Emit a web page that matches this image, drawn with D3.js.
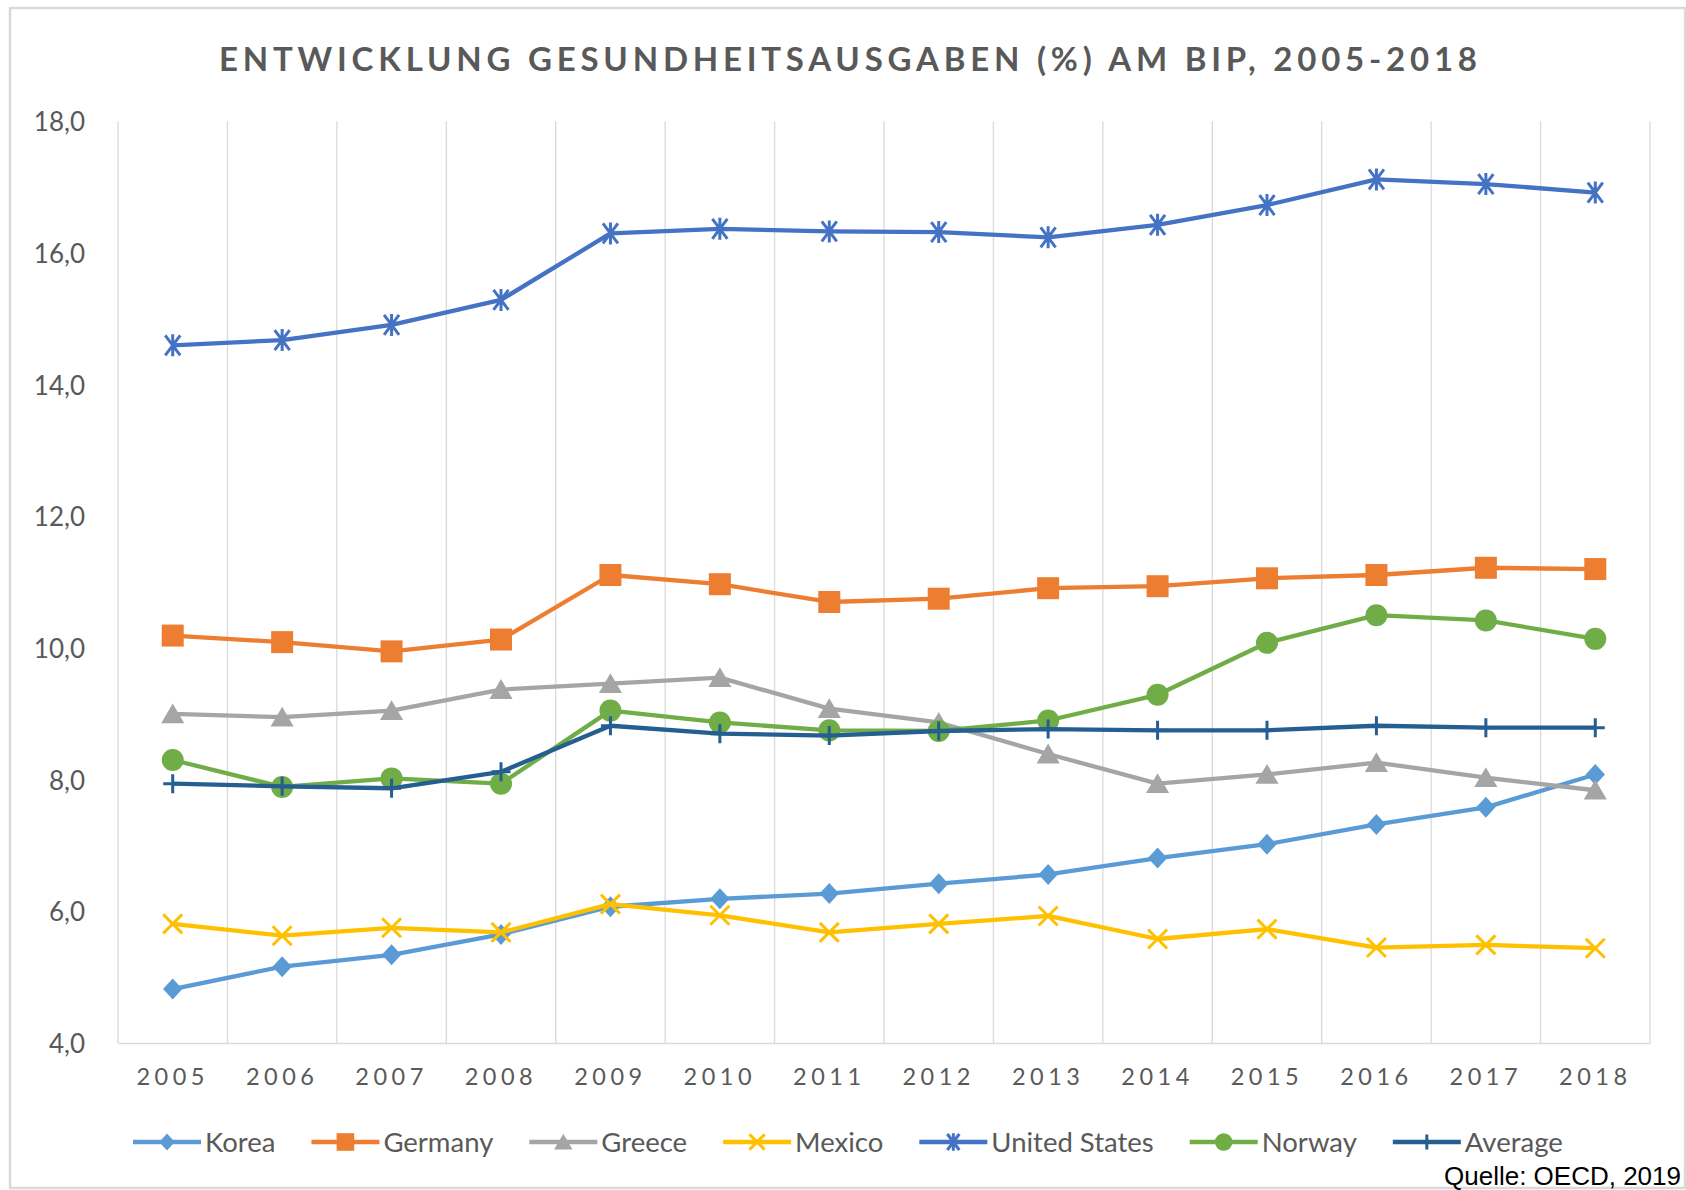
<!DOCTYPE html>
<html>
<head>
<meta charset="utf-8">
<script src="https://cdn.jsdelivr.net/npm/d3@7"></script>
<style>
  html, body { margin: 0; padding: 0; background: #fff; }
  svg { display: block; }
</style>
</head>
<body>
<svg id="chart" width="1686" height="1190"></svg>
<script>
// ---- data ----
const years = ["2005","2006","2007","2008","2009","2010","2011","2012","2013","2014","2015","2016","2017","2018"];
const yTicks = [4, 6, 8, 10, 12, 14, 16, 18];
const seriesNames = ["Korea", "Germany", "Greece", "Mexico", "United States", "Norway", "Average"];
const korea   = [4.82, 5.16, 5.34, 5.65, 6.07, 6.19, 6.27, 6.42, 6.56, 6.81, 7.02, 7.32, 7.58, 8.08];
const germany = [10.19, 10.09, 9.95, 10.13, 11.11, 10.97, 10.70, 10.75, 10.91, 10.94, 11.06, 11.11, 11.22, 11.20];
const greece  = [9.00, 8.95, 9.05, 9.37, 9.46, 9.55, 9.08, 8.87, 8.39, 7.94, 8.08, 8.26, 8.03, 7.84];
const mexico  = [5.81, 5.63, 5.75, 5.68, 6.11, 5.94, 5.68, 5.81, 5.93, 5.58, 5.73, 5.45, 5.49, 5.44];
const unitedStates = [14.60, 14.68, 14.91, 15.29, 16.30, 16.37, 16.33, 16.32, 16.24, 16.43, 16.73, 17.12, 17.05, 16.92];
const norway  = [8.30, 7.89, 8.02, 7.94, 9.05, 8.87, 8.75, 8.74, 8.90, 9.29, 10.08, 10.50, 10.42, 10.14];
const average = [7.94, 7.90, 7.87, 8.12, 8.82, 8.70, 8.67, 8.74, 8.77, 8.75, 8.75, 8.82, 8.79, 8.79];
const seriesValues = [korea, germany, greece, mexico, unitedStates, norway, average];
const titleText = "ENTWICKLUNG GESUNDHEITSAUSGABEN (%) AM BIP, 2005-2018";
const sourceText = "Quelle: OECD, 2019";

// ---- styles ----
const colors = ["#5B9BD5", "#ED7D31", "#A5A5A5", "#FFC000", "#4472C4", "#70AD47", "#255E91"];
const markerTypes = ["diamond", "square", "triangle", "x", "star", "circle", "plus"];

const svg = d3.select("#chart");
const W = 1686, H = 1190;
const plot = { left: 118, right: 1650, top: 121.5, bottom: 1043 };

// background + border
svg.append("rect").attr("x", 0).attr("y", 0).attr("width", W).attr("height", H).attr("fill", "#fff");
svg.append("rect").attr("x", 10).attr("y", 8).attr("width", 1675).attr("height", 1180)
  .attr("fill", "#fff").attr("stroke", "#D9D9D9").attr("stroke-width", 2.5);

const x = d3.scaleBand().domain(years).range([plot.left, plot.right]).padding(0);
const y = d3.scaleLinear().domain([4, 18]).range([plot.bottom, plot.top]);
const xc = d => x(d) + x.bandwidth() / 2;

// vertical gridlines at category boundaries
const bounds = years.map(d => x(d)).concat([plot.right]);
svg.append("g").selectAll("line").data(bounds).join("line")
  .attr("x1", d => d).attr("x2", d => d)
  .attr("y1", y(18)).attr("y2", y(4))
  .attr("stroke", "#D9D9D9").attr("stroke-width", 1.3);

// x axis
const xAxis = svg.append("g").attr("transform", `translate(0,${plot.bottom})`)
  .call(d3.axisBottom(x).tickSize(0).tickPadding(0));
xAxis.select(".domain").attr("stroke", "#D9D9D9").attr("stroke-width", 1.5);
xAxis.selectAll("text")
  .attr("y", 42)
  .attr("dy", 0)
  .attr("font-family", "Lato, 'Open Sans', sans-serif")
  .attr("font-size", 23.5)
  .attr("letter-spacing", "4.5px")
  .attr("fill", "#595959");

// y axis
const fmt = v => d3.format(".1f")(v).replace(".", ",");
const yAxis = svg.append("g").attr("transform", `translate(${plot.left},0)`)
  .call(d3.axisLeft(y).tickValues(yTicks).tickFormat(fmt).tickSize(0).tickPadding(33));
yAxis.select(".domain").remove();
yAxis.selectAll("text")
  .attr("font-family", "Lato, 'Open Sans', sans-serif")
  .attr("font-size", 26)
  .attr("dy", "0.36em")
  .attr("fill", "#595959");

// title
svg.append("text")
  .attr("x", 848).attr("y", 71)
  .attr("text-anchor", "middle")
  .attr("font-family", "Lato, 'Open Sans', sans-serif")
  .attr("font-weight", "bold")
  .attr("font-size", 33)
  .attr("fill", "#595959")
  .attr("textLength", 1258)
  .attr("lengthAdjust", "spacing")
  .text(titleText);

// marker paths
function markerPath(type, s) {
  switch (type) {
    case "diamond": return `M0,${-s}L${s*0.92},0L0,${s}L${-s*0.92},0Z`;
    case "square": return `M${-s},${-s}H${s}V${s}H${-s}Z`;
    case "triangle": return `M0,${-s*0.95}L${s*1.05},${s*0.85}L${-s*1.05},${s*0.85}Z`;
    case "x": return `M${-s},${-s}L${s},${s}M${-s},${s}L${s},${-s}`;
    case "star": return `M${-s*0.75},${-s}L${s*0.75},${s}M${-s*0.75},${s}L${s*0.75},${-s}M0,${-s*1.1}V${s*1.1}`;
    case "plus": return `M0,${-s}V${s}M${-s},0H${s}`;
    case "circle": return d3.symbol(d3.symbolCircle, Math.PI * s * s)();
  }
}
const filled = t => ["diamond", "square", "triangle", "circle"].includes(t);
const markerSize = { diamond: 10.5, square: 11, triangle: 11, x: 9.5, star: 10, plus: 9.5, circle: 11 };

const line = d3.line().x(d => xc(d.year)).y(d => y(d.value));

seriesNames.forEach((name, i) => {
  const pts = years.map((yr, j) => ({ year: yr, value: seriesValues[i][j] }));
  const g = svg.append("g").attr("class", "series");
  g.append("path").datum(pts)
    .attr("d", line)
    .attr("fill", "none")
    .attr("stroke", colors[i])
    .attr("stroke-width", 4.3)
    .attr("stroke-linejoin", "round");
  const t = markerTypes[i];
  g.selectAll("path.m").data(pts).join("path")
    .attr("class", "m")
    .attr("transform", d => `translate(${xc(d.year)},${y(d.value)})`)
    .attr("d", markerPath(t, markerSize[t]))
    .attr("fill", filled(t) ? colors[i] : "none")
    .attr("stroke", colors[i])
    .attr("stroke-width", filled(t) ? 0 : 3);
});

// legend
const legend = svg.append("g");
const legendY = 1142;
let lx = 133;
seriesNames.forEach((name, i) => {
  const g = legend.append("g");
  g.append("line").attr("x1", lx).attr("x2", lx + 68).attr("y1", legendY).attr("y2", legendY)
    .attr("stroke", colors[i]).attr("stroke-width", 4.3);
  const t = markerTypes[i];
  g.append("path")
    .attr("transform", `translate(${lx + 34},${legendY})`)
    .attr("d", markerPath(t, markerSize[t] * 0.8))
    .attr("fill", filled(t) ? colors[i] : "none")
    .attr("stroke", colors[i])
    .attr("stroke-width", filled(t) ? 0 : 3);
  const txt = g.append("text")
    .attr("x", lx + 72).attr("y", legendY)
    .attr("dy", "0.36em")
    .attr("font-family", "Lato, 'Open Sans', sans-serif")
    .attr("font-size", 27.5)
    .attr("fill", "#595959")
    .text(name);
  lx += 72 + txt.node().getComputedTextLength() + 36;
});

// source
svg.append("text")
  .attr("x", 1681).attr("y", 1185)
  .attr("text-anchor", "end")
  .attr("font-family", "'Liberation Sans', Arial, sans-serif")
  .attr("font-size", 26)
  .attr("fill", "#000")
  .text(sourceText);
</script>
</body>
</html>
